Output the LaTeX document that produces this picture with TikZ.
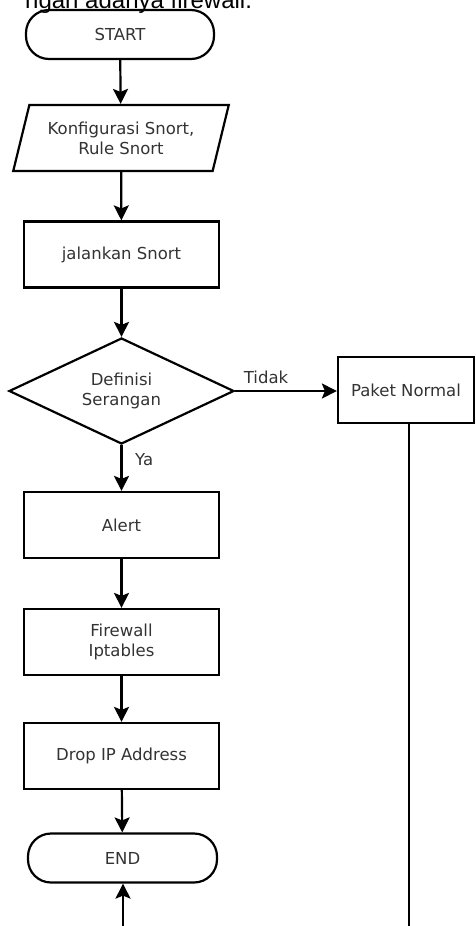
\documentclass[tikz,border=0pt]{standalone}
\usepackage{fontspec}
\setmainfont{DejaVu Sans}
\newfontfamily\captionfont{Liberation Sans}
\usetikzlibrary{shapes.geometric,arrows.meta}
\tikzset{
  base/.style={draw=black, line width=2.2pt, text=black!80, align=center,
    font=\fontsize{16.5}{20}\selectfont, inner sep=0pt},
  boxnode/.style={base, rectangle, minimum width=195pt, minimum height=66pt},
  term/.style={base, rectangle, rounded corners=23pt, minimum height=49pt},
  io/.style={base, trapezium, trapezium left angle=68.5, trapezium right angle=111.5,
    minimum width=216pt, minimum height=66pt, trapezium stretches=true},
  decision/.style={base, diamond, minimum width=225pt, minimum height=106pt, aspect=2.12},
  lbl/.style={text=black!80, font=\fontsize{16.5}{20}\selectfont, inner sep=0pt},
  flow/.style={line width=2.2pt, -{Stealth[length=15pt, width=15pt, inset=3pt]}},
  plain/.style={line width=2.2pt}
}
\begin{document}
\begin{tikzpicture}[x=1pt, y=-1pt]
  \useasboundingbox (0,0) rectangle (475,926);
  \clip (0,0) rectangle (475,926);
  \node[anchor=base west, inner sep=0pt, font=\captionfont\fontsize{24}{28}\selectfont] (cap) at (25,8.5) {ngan adanya firewall.};
  \node[term, minimum width=188pt] (start) at (120,34.5) {START};
  \node[io] (cfg) at (121,138) {Konfigurasi Snort,\\Rule Snort};
  \node[boxnode] (run) at (121.5,254.5) {jalankan Snort};
  \node[decision] (dec) at (121.5,391) {Definisi\\Serangan};
  \node[base, rectangle, minimum width=136pt, minimum height=66pt] (pn) at (406,390) {Paket Normal};
  \node[boxnode] (alert) at (121.5,525) {Alert};
  \node[boxnode] (fw) at (121.5,642) {Firewall\\Iptables};
  \node[boxnode] (drop) at (121.5,756) {Drop IP Address};
  \node[term, minimum width=189pt] (end) at (122.5,858) {END};
  \node[lbl, anchor=base] (tidak) at (266,383) {Tidak};
  \node[lbl, anchor=base west] (ya) at (135,465) {Ya};
  \coordinate (pnb) at (409,930);
  \coordinate (endb) at (123,930);
  \draw[flow] (start) -- (cfg);
  \draw[flow] (cfg) -- (run);
  \draw[flow] (run) -- (dec);
  \draw[flow] (dec.east) -- (pn.west |- dec.east);
  \draw[flow] (dec) -- (alert);
  \draw[flow] (alert) -- (fw);
  \draw[flow] (fw) -- (drop);
  \draw[flow] (drop) -- (end);
  \draw[plain] (pn.south -| pnb) -- (pnb);
  \draw[flow] (endb) -- (end.south -| endb);
\end{tikzpicture}
\end{document}
